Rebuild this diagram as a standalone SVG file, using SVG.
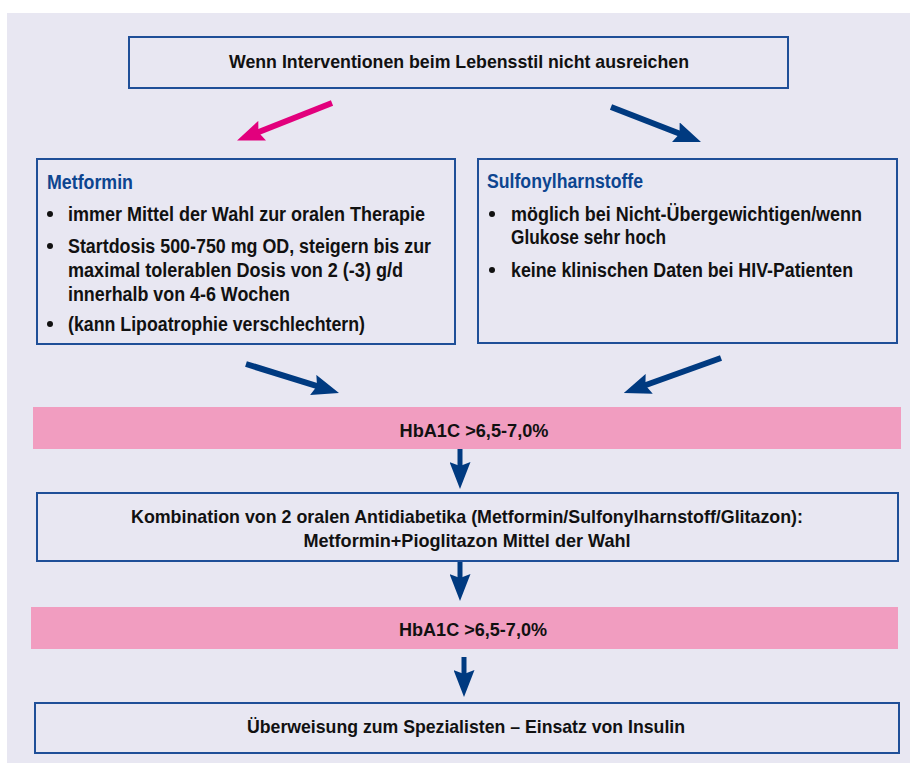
<svg xmlns="http://www.w3.org/2000/svg" width="910" height="763" viewBox="0 0 910 763">
<style>
.bg{fill:#e8e7f2}
.box{fill:#e8e7f2;stroke:#1f4f98;stroke-width:2}
.band{fill:#f19dc0}
.t{font-family:"Liberation Sans",Arial,sans-serif;font-weight:bold;fill:#111;font-size:20px}
.c{text-anchor:middle;font-size:19px}
.h{fill:#0d4590}
.dot{fill:#111}
.ab{stroke:#003a80;fill:none}
.ap{stroke:#e2007d;fill:none}
</style>
<defs>
<marker id="hb" markerUnits="userSpaceOnUse" viewBox="0 0 27 21" markerWidth="27" markerHeight="21" refX="5" refY="10.5" orient="auto"><path d="M0,0 L27,10.5 L0,21 L4,10.5 z" fill="#003a80"/></marker>
<marker id="hp" markerUnits="userSpaceOnUse" viewBox="0 0 27 21" markerWidth="27" markerHeight="21" refX="5" refY="10.5" orient="auto"><path d="M0,0 L27,10.5 L0,21 L4,10.5 z" fill="#e2007d"/></marker>
</defs>
<rect class="bg" x="7" y="13" width="903" height="750"/>

<g id="start">
<rect class="box" x="129" y="37" width="659" height="51"/>
<text class="t c" x="459" y="68" textLength="460" lengthAdjust="spacingAndGlyphs">Wenn Interventionen beim Lebensstil nicht ausreichen</text>
</g>

<g id="metformin">
<rect class="box" x="37" y="159" width="418" height="185"/>
<text class="t h" x="47" y="189" textLength="86" lengthAdjust="spacingAndGlyphs">Metformin</text>
<circle class="dot" cx="50" cy="214" r="3"/>
<text class="t" x="68" y="221" textLength="357" lengthAdjust="spacingAndGlyphs">immer Mittel der Wahl zur oralen Therapie</text>
<circle class="dot" cx="50" cy="246" r="3"/>
<text class="t" x="68" y="253" textLength="363" lengthAdjust="spacingAndGlyphs">Startdosis 500-750 mg OD, steigern bis zur</text>
<text class="t" x="68" y="277" textLength="335" lengthAdjust="spacingAndGlyphs">maximal tolerablen Dosis von 2 (-3) g/d</text>
<text class="t" x="68" y="301" textLength="222" lengthAdjust="spacingAndGlyphs">innerhalb von 4-6 Wochen</text>
<circle class="dot" cx="50" cy="324" r="3"/>
<text class="t" x="68" y="331" textLength="297" lengthAdjust="spacingAndGlyphs">(kann Lipoatrophie verschlechtern)</text>
</g>

<g id="sulfonyl">
<rect class="box" x="478" y="159" width="419" height="184"/>
<text class="t h" x="487" y="188" textLength="156" lengthAdjust="spacingAndGlyphs">Sulfonylharnstoffe</text>
<circle class="dot" cx="492" cy="214" r="3"/>
<text class="t" x="511" y="221" textLength="351" lengthAdjust="spacingAndGlyphs">möglich bei Nicht-Übergewichtigen/wenn</text>
<text class="t" x="511" y="244" textLength="155" lengthAdjust="spacingAndGlyphs">Glukose sehr hoch</text>
<circle class="dot" cx="492" cy="270" r="3"/>
<text class="t" x="511" y="277" textLength="342" lengthAdjust="spacingAndGlyphs">keine klinischen Daten bei HIV-Patienten</text>
</g>

<g id="hba1c1">
<rect class="band" x="33" y="407" width="868" height="42"/>
<text class="t c" x="474" y="437" textLength="149" lengthAdjust="spacingAndGlyphs">HbA1C &gt;6,5-7,0%</text>
</g>

<g id="kombination">
<rect class="box" x="37" y="493" width="861" height="68"/>
<text class="t c" x="467" y="523" textLength="672" lengthAdjust="spacingAndGlyphs">Kombination von 2 oralen Antidiabetika (Metformin/Sulfonylharnstoff/Glitazon):</text>
<text class="t c" x="467" y="547" textLength="327" lengthAdjust="spacingAndGlyphs">Metformin+Pioglitazon Mittel der Wahl</text>
</g>

<g id="hba1c2">
<rect class="band" x="31" y="607" width="867" height="42"/>
<text class="t c" x="473" y="636" textLength="148" lengthAdjust="spacingAndGlyphs">HbA1C &gt;6,5-7,0%</text>
</g>

<g id="insulin">
<rect class="box" x="35" y="703" width="864" height="50"/>
<text class="t c" x="466" y="733" textLength="438" lengthAdjust="spacingAndGlyphs">Überweisung zum Spezialisten – Einsatz von Insulin</text>
</g>

<g id="connectors">
<line class="ap" x1="332" y1="103" x2="257.5" y2="132.5" stroke-width="6" marker-end="url(#hp)"/>
<line class="ab" x1="611" y1="107" x2="680.5" y2="134" stroke-width="6" marker-end="url(#hb)"/>
<line class="ab" x1="246" y1="364" x2="318" y2="386.4" stroke-width="6" marker-end="url(#hb)"/>
<line class="ab" x1="721" y1="358" x2="644.5" y2="385.5" stroke-width="6" marker-end="url(#hb)"/>
<line class="ab" x1="460" y1="449" x2="460" y2="467" stroke-width="5" marker-end="url(#hb)"/>
<line class="ab" x1="460" y1="562" x2="460" y2="579" stroke-width="5" marker-end="url(#hb)"/>
<line class="ab" x1="464" y1="657" x2="464" y2="675" stroke-width="5" marker-end="url(#hb)"/>
</g>
</svg>
